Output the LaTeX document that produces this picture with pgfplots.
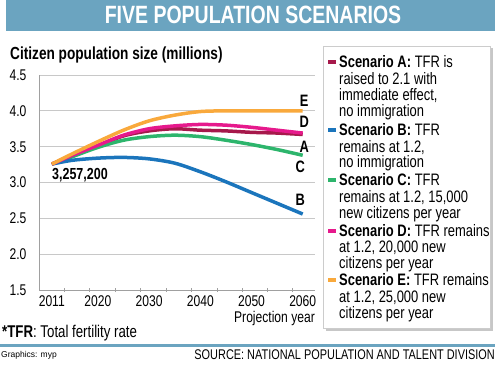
\documentclass[border=0pt]{standalone}
\usepackage{pgfplots}
\pgfplotsset{compat=1.18}
\usepackage{fontspec}
\setmainfont{Liberation Sans}[FakeStretch=0.78]
\newfontfamily\arialfont{Liberation Sans}
\definecolor{scA}{HTML}{A6194B}
\definecolor{scB}{HTML}{1B75BC}
\definecolor{scC}{HTML}{2DB56C}
\definecolor{scD}{HTML}{E6198C}
\definecolor{scE}{HTML}{F9A93C}
\definecolor{banner}{HTML}{6BA4C0}
\definecolor{gridgray}{HTML}{C8C8C8}
\definecolor{axgray}{HTML}{A0A0A0}
\newcommand{\lgline}[2]{\node[anchor=base west, inner sep=0, font=\fontsize{16.6}{16.6}\selectfont] at (339,{365-#1-5.9}) {#2};}
\newcommand{\lgsq}[2]{\fill[#2] (328,{365-#1-2.2}) rectangle (336,{365-#1+2.2});}
\begin{document}
\begin{tikzpicture}[x=1pt,y=1pt]
\useasboundingbox (0,0) rectangle (500,365);
\fill[banner] (6,334) rectangle (495,365);
\node[text=white, inner sep=0, font=\bfseries\fontsize{25}{25}\selectfont] at (253,350) {FIVE POPULATION SCENARIOS};
\node[anchor=base west, inner sep=0, font=\bfseries\fontsize{17.5}{17.5}\selectfont] at (10,305.5) {Citizen population size (millions)};
\begin{axis}[at={(39pt,75pt)}, anchor=south west, scale only axis, width=276pt, height=215pt,
 xmin=2008.5, xmax=2062.4, ymin=1.5, ymax=4.5,
 axis x line=bottom, axis y line=left, axis line style={axgray, line width=1pt, -},
 xtick={2011,2020,2030,2040,2050,2060}, xticklabels={2011,2020,2030,2040,2050,2060},
 ytick={1.5,2,2.5,3,3.5,4,4.5}, yticklabels={1.5,2.0,2.5,3.0,3.5,4.0,4.5},
 major tick length=0pt,
 ymajorgrids, grid style={gridgray, line width=1pt},
 extra x ticks={2013.38,2018.27,2023.34,2028.23,2033.3,2038.2,2043.27,2048.15,2053.03,2057.9},
 extra x tick labels={},
 extra x tick style={major tick length=4pt, tick align=center, major tick style={axgray, line width=0.8pt}, grid=none},
 /pgf/number format/assume math mode=true,
 tick label style={font=\fontsize{15.5}{15.5}\selectfont},
 xticklabel style={yshift=-2pt}, yticklabel style={xshift=-9pt},
 every axis plot/.append style={line width=3.5pt, smooth, no markers},
 clip=false,
]
\addplot[scA] coordinates {(2011,3.257)(2015,3.37)(2020,3.51)(2025,3.65)(2030,3.72)(2035,3.75)(2040,3.73)(2045,3.72)(2050,3.70)(2055,3.69)(2060,3.67)};
\addplot[scC] coordinates {(2011,3.257)(2015,3.36)(2020,3.49)(2025,3.59)(2030,3.64)(2035,3.66)(2040,3.64)(2045,3.59)(2050,3.53)(2055,3.46)(2060,3.38)};
\addplot[scB] coordinates {(2011,3.257)(2015,3.31)(2020,3.34)(2025,3.35)(2030,3.33)(2035,3.27)(2040,3.15)(2045,3.01)(2050,2.86)(2055,2.71)(2060,2.56)};
\addplot[scD] coordinates {(2011,3.257)(2015,3.38)(2020,3.52)(2025,3.66)(2030,3.75)(2035,3.79)(2040,3.81)(2045,3.80)(2050,3.77)(2055,3.73)(2060,3.69)};
\addplot[scE] coordinates {(2011,3.257)(2015,3.40)(2020,3.57)(2025,3.73)(2030,3.86)(2035,3.94)(2040,3.99)(2045,4.0)(2050,4.0)(2055,4.0)(2060,4.0)};
\node[font=\bfseries\fontsize{16.5}{16.5}\selectfont] at (axis cs:2060.3,4.14) {E};
\node[font=\bfseries\fontsize{16.5}{16.5}\selectfont] at (axis cs:2060.3,3.84) {D};
\node[font=\bfseries\fontsize{16.5}{16.5}\selectfont] at (axis cs:2060.3,3.50) {A};
\node[font=\bfseries\fontsize{16.5}{16.5}\selectfont] at (axis cs:2059.5,3.22) {C};
\node[font=\bfseries\fontsize{16.5}{16.5}\selectfont] at (axis cs:2059.5,2.76) {B};
\node[font=\bfseries\fontsize{16}{16}\selectfont] at (axis cs:2016.5,3.105) {3,257,200};
\end{axis}
\node[anchor=base east, inner sep=0, font=\fontsize{15.5}{15.5}\selectfont] at (315,42.4) {Projection year};
% legend box
\fill[black!22] (325.5,34.5) rectangle (492.5,316.5);
\filldraw[fill=white, draw=black!20, line width=0.8pt] (323,37) rectangle (490,319);
\lgsq{62}{scA}
\lgline{62}{\textbf{Scenario A:} TFR is}
\lgline{78.3}{raised to 2.1 with}
\lgline{95}{immediate effect,}
\lgline{111}{no immigration}
\lgsq{130}{scB}
\lgline{130}{\textbf{Scenario B:} TFR}
\lgline{146.7}{remains at 1.2,}
\lgline{161.7}{no immigration}
\lgsq{180}{scC}
\lgline{180}{\textbf{Scenario C:} TFR}
\lgline{196.7}{remains at 1.2, 15,000}
\lgline{212.7}{new citizens per year}
\lgsq{230.7}{scD}
\lgline{230.7}{\textbf{Scenario D:} TFR remains}
\lgline{246.7}{at 1.2, 20,000 new}
\lgline{262.7}{citizens per year}
\lgsq{280}{scE}
\lgline{280}{\textbf{Scenario E:} TFR remains}
\lgline{296.7}{at 1.2, 25,000 new}
\lgline{313}{citizens per year}
% footer
\node[anchor=base west, inner sep=0, font=\fontsize{17}{17}\selectfont] at (2,27.5) {\textbf{*TFR}: Total fertility rate};
\draw[banner, line width=3pt] (0,20) -- (495,20);
\node[anchor=base west, inner sep=0, font=\arialfont\fontsize{8.5}{8.5}\selectfont] at (1,8) {Graphics: myp};
\node[anchor=base east, inner sep=0, font=\fontsize{14}{14}\selectfont] at (495,6) {SOURCE: NATIONAL POPULATION AND TALENT DIVISION};
\end{tikzpicture}
\end{document}
